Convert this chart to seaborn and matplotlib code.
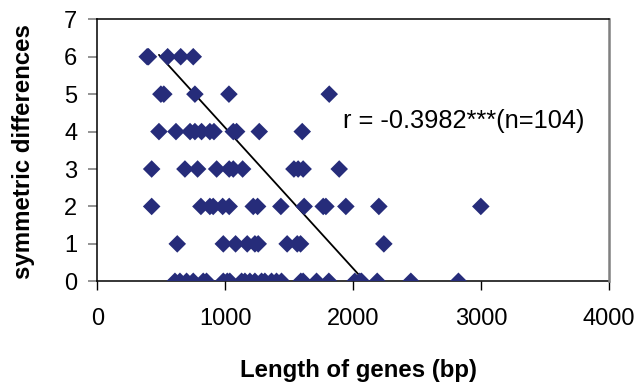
import matplotlib
matplotlib.use("Agg")
import matplotlib.pyplot as plt
import seaborn as sns
import numpy as np
import pandas as pd

# Data (gene length in bp, symmetric differences)
len_d6 = [390, 400, 550, 652, 750]
len_d5 = [497, 520, 763, 1029, 1813]
len_d4 = [482, 615, 725, 763, 815, 880, 912, 1063, 1089, 1266, 1602]
len_d3 = [425, 685, 784, 933, 1031, 1063, 1136, 1537, 1570, 1609, 1891]
len_d2 = [425, 810, 880, 906, 980, 1031, 1219, 1253, 1435, 1617, 1766, 1787,
          1943, 2201, 2998]
len_d1 = [625, 985, 1081, 1172, 1232, 1258, 1484, 1563, 1589, 2240]
len_d0 = [607, 646, 698, 750, 828, 854, 985, 1016, 1036, 1128, 1154, 1193,
          1232, 1284, 1310, 1362, 1401, 1440, 1591, 1609, 1714, 1810, 2013,
          2052, 2065, 2188, 2451, 2823]

# Trend line end points
trend_x = [482, 2091]
trend_y = [6.05, 0.0]

annot_text = "r = -0.3982***(n=104)"
x_ticks = [0, 1000, 2000, 3000, 4000]
y_ticks = [0, 1, 2, 3, 4, 5, 6, 7]

groups = [(6, len_d6), (5, len_d5), (4, len_d4), (3, len_d3),
          (2, len_d2), (1, len_d1), (0, len_d0)]
df = pd.DataFrame({
    "length": [x for _, xs in groups for x in xs],
    "diff": [d for d, xs in groups for _ in xs],
})

sns.set_style("white")
plt.rcParams["font.family"] = ["Liberation Sans", "DejaVu Sans"]
plt.rcParams["text.color"] = "black"

W, H = 641, 383
fig = plt.figure(figsize=(W / 100, H / 100), dpi=100)
ax = fig.add_axes([97.3 / W, 1 - 281.3 / H, (609 - 97.3) / W, (281.3 - 19.3) / H])

sns.scatterplot(data=df, x="length", y="diff", ax=ax, marker="D", s=80,
                color="#262c7a", edgecolor="none", linewidth=0, zorder=3)
ax.plot(trend_x, trend_y, color="black", lw=1.3, zorder=2)

ax.set_xlim(0, 4000)
ax.set_ylim(0, 7)
ax.set_xticks(x_ticks)
ax.set_yticks(y_ticks)
ax.set_xticklabels([str(v) for v in x_ticks])
ax.set_yticklabels([str(v) for v in y_ticks])
ax.set_xlabel("")
ax.set_ylabel("")

ax.tick_params(axis="x", direction="out", length=6.5, width=1, color="black",
               labelcolor="black", labelsize=17, pad=12.5, bottom=True)
ax.tick_params(axis="y", direction="out", length=6.5, width=1.2, color="#808080",
               labelcolor="black", labelsize=17, pad=8, left=True)

for side in ["left", "bottom", "top"]:
    ax.spines[side].set_color("black")
    ax.spines[side].set_linewidth(1.1)
ax.spines["right"].set_color("#808080")
ax.spines["right"].set_linewidth(1.8)
ax.spines["bottom"].set_zorder(1)

ax.text(1920, 4.1, annot_text, fontsize=18.3, va="baseline", ha="left", color="black")

fig.text(358 / W, 1 - 376.7 / H, "Length of genes (bp)", fontsize=17.3,
         fontweight="bold", ha="center", va="baseline", color="black")
fig.text(24 / W, 1 - 151.5 / H, "symmetric differences", fontsize=17.3,
         fontweight="bold", rotation=90, ha="center", va="center", color="black")

fig.savefig("out.png", dpi=100)
